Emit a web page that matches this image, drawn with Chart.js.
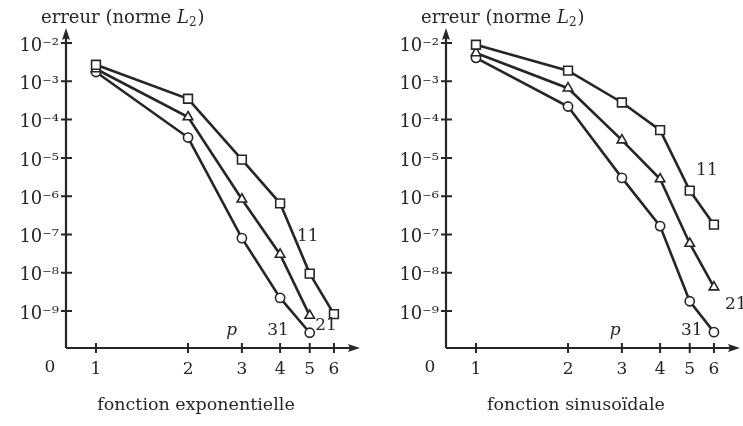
<!DOCTYPE html>
<html>
<head>
<meta charset="utf-8">
<script src="https://cdn.jsdelivr.net/npm/chart.js@4.4.1/dist/chart.umd.min.js"></script>
<style>
  body { margin: 0; background: #fff; }
  .panel { position: absolute; top: 0; height: 426px; overflow: hidden; }
</style>
</head>
<body>
<div class="panel" style="left:0;width:380px"><canvas id="expChart" width="380" height="426"></canvas></div>
<div class="panel" style="left:380px;width:363px"><canvas id="sinChart" width="380" height="426"></canvas></div>
<script>
// p values (x axis) and tick positions
const pValues = [1, 2, 3, 4, 5, 6];
const xTickValues = [1, 2, 3, 4, 5, 6];
const yTickExponents = [-2, -3, -4, -5, -6, -7, -8, -9];

// fonction exponentielle, N = 11 / 21 / 31
const expErr11 = [2.7e-3, 3.5e-4, 9e-6, 6.5e-7, 9.5e-9, 8.3e-10];
const expErr21 = [2.1e-3, 1.17e-4, 8.3e-7, 3e-8, 7.6e-10];
const expErr31 = [1.75e-3, 3.4e-5, 8e-8, 2.2e-9, 2.7e-10];

// fonction sinusoidale, N = 11 / 21 / 31
const sinErr11 = [9e-3, 1.9e-3, 2.8e-4, 5.3e-5, 1.4e-6, 1.8e-7];
const sinErr21 = [5.5e-3, 6.6e-4, 2.9e-5, 2.8e-6, 5.8e-8, 4.2e-9];
const sinErr31 = [4.1e-3, 2.2e-4, 3e-6, 1.65e-7, 1.8e-9, 2.8e-10];

const ink = '#262626';
const serif = '"DejaVu Serif", "Liberation Serif", serif';
const supMap = { '-': '\u207B', '0': '\u2070', '1': '\u00B9', '2': '\u00B2', '3': '\u00B3',
  '4': '\u2074', '5': '\u2075', '6': '\u2076', '7': '\u2077', '8': '\u2078', '9': '\u2079' };

function toSup(n) {
  return String(n).split('').map(c => supMap[c] || c).join('');
}

function toPoints(values) {
  return values.map((v, i) => ({ x: pValues[i], y: v }));
}

function makeDataset(label, values, style, radius) {
  return {
    label: label,
    data: toPoints(values),
    borderColor: ink,
    borderWidth: 2.6,
    pointStyle: style,
    pointRadius: radius,
    pointBorderWidth: 1.6,
    pointBorderColor: ink,
    pointBackgroundColor: '#fff',
    tension: 0,
    clip: false
  };
}

// axes with arrows, tick marks and all the loose text
const axisDecor = {
  id: 'axisDecor',
  beforeDatasetsDraw(chart) {
    const { ctx, chartArea: a, scales: { x, y } } = chart;
    ctx.save();
    ctx.strokeStyle = ink;
    ctx.fillStyle = ink;
    ctx.lineWidth = 2.2;
    ctx.beginPath();
    ctx.moveTo(a.left, a.bottom); ctx.lineTo(a.left, a.top + 8);
    ctx.moveTo(a.left, a.bottom); ctx.lineTo(a.right - 8, a.bottom);
    ctx.stroke();
    // arrow heads
    ctx.beginPath();
    ctx.moveTo(a.left, a.top); ctx.lineTo(a.left - 4, a.top + 12); ctx.lineTo(a.left, a.top + 10); ctx.lineTo(a.left + 4, a.top + 12);
    ctx.closePath(); ctx.fill();
    ctx.beginPath();
    ctx.moveTo(a.right, a.bottom); ctx.lineTo(a.right - 12, a.bottom - 4); ctx.lineTo(a.right - 10, a.bottom); ctx.lineTo(a.right - 12, a.bottom + 4);
    ctx.closePath(); ctx.fill();
    // tick marks across the axes
    ctx.lineWidth = 2;
    ctx.beginPath();
    y.ticks.forEach(t => {
      const py = y.getPixelForValue(t.value);
      ctx.moveTo(a.left - 5, py); ctx.lineTo(a.left + 6, py);
    });
    x.ticks.forEach(t => {
      const px = x.getPixelForValue(t.value);
      ctx.moveTo(px, a.bottom - 5); ctx.lineTo(px, a.bottom + 5);
    });
    ctx.stroke();
    ctx.restore();
  },
  afterDraw(chart, args, opts) {
    const { ctx, chartArea: a, scales: { x, y } } = chart;
    ctx.save();
    ctx.fillStyle = ink;
    // origin label
    ctx.font = '17px ' + serif;
    ctx.textAlign = 'center';
    ctx.textBaseline = 'middle';
    ctx.fillText('0', a.left - 16, a.bottom + 20);
    // y axis title: erreur (norme L2)
    ctx.textAlign = 'left';
    ctx.textBaseline = 'alphabetic';
    let tx = a.left - 25;
    const ty = 23;
    ctx.font = '18px ' + serif;
    ctx.fillText('erreur (norme ', tx, ty);
    tx += ctx.measureText('erreur (norme ').width;
    ctx.font = 'italic 18px ' + serif;
    ctx.fillText('L', tx, ty);
    tx += ctx.measureText('L').width;
    ctx.font = '12px ' + serif;
    ctx.fillText('2', tx, ty + 3);
    tx += ctx.measureText('2').width + 1;
    ctx.font = '18px ' + serif;
    ctx.fillText(')', tx, ty);
    // curve labels
    ctx.textAlign = 'center';
    ctx.textBaseline = 'middle';
    opts.labels.forEach(l => {
      ctx.font = (l.italic ? 'italic ' : '') + '17px ' + serif;
      ctx.fillText(l.text, x.getPixelForValue(l.p), y.getPixelForValue(l.err));
    });
    // bottom caption
    ctx.font = '17.5px ' + serif;
    ctx.fillText(opts.caption, 196, 405);
    ctx.restore();
  }
};

function makeChart(id, datasets, labels, caption) {
  return new Chart(document.getElementById(id), {
    type: 'line',
    data: { datasets: datasets },
    plugins: [axisDecor],
    options: {
      responsive: false,
      animation: false,
      devicePixelRatio: 1,
      layout: { padding: { top: 28, right: 20, left: 0, bottom: 0 } },
      plugins: {
        legend: { display: false },
        tooltip: { enabled: false },
        axisDecor: { labels: labels, caption: caption }
      },
      scales: {
        x: {
          type: 'logarithmic',
          min: 0.798,
          max: 7.3,
          afterFit: s => { s.height = 78; },
          afterBuildTicks: s => { s.ticks = xTickValues.map(v => ({ value: v })); },
          grid: { display: false, drawTicks: false },
          border: { display: false },
          ticks: {
            autoSkip: false,
            maxRotation: 0,
            padding: 11,
            color: ink,
            font: { family: serif, size: 17 },
            callback: v => String(v)
          }
        },
        y: {
          type: 'logarithmic',
          min: 1.08e-10,
          max: 0.0247,
          afterFit: s => { s.width = 66; },
          afterBuildTicks: s => { s.ticks = yTickExponents.map(e => ({ value: Math.pow(10, e) })); },
          grid: { display: false, drawTicks: false },
          border: { display: false },
          ticks: {
            autoSkip: false,
            padding: 7,
            labelOffset: 3,
            color: ink,
            font: { family: serif, size: 18 },
            callback: v => '10' + toSup(Math.round(Math.log10(v)))
          }
        }
      }
    }
  });
}

makeChart('expChart', [
  makeDataset('11', expErr11, 'rect', 6.2),
  makeDataset('21', expErr21, 'triangle', 5.5),
  makeDataset('31', expErr31, 'circle', 4.6)
], [
  { text: '11', p: 4.93, err: Math.pow(10, -7.05) },
  { text: '21', p: 5.65, err: Math.pow(10, -9.37) },
  { text: '31', p: 3.94, err: Math.pow(10, -9.5) },
  { text: 'p', p: 2.78, err: Math.pow(10, -9.5), italic: true }
], 'fonction exponentielle');

makeChart('sinChart', [
  makeDataset('11', sinErr11, 'rect', 6.2),
  makeDataset('21', sinErr21, 'triangle', 5.5),
  makeDataset('31', sinErr31, 'circle', 4.6)
], [
  { text: '11', p: 5.69, err: Math.pow(10, -5.34) },
  { text: '21', p: 7.08, err: Math.pow(10, -8.82) },
  { text: '31', p: 5.08, err: Math.pow(10, -9.5) },
  { text: 'p', p: 2.85, err: Math.pow(10, -9.5), italic: true }
], 'fonction sinuso\u00EFdale');
</script>
</body>
</html>
